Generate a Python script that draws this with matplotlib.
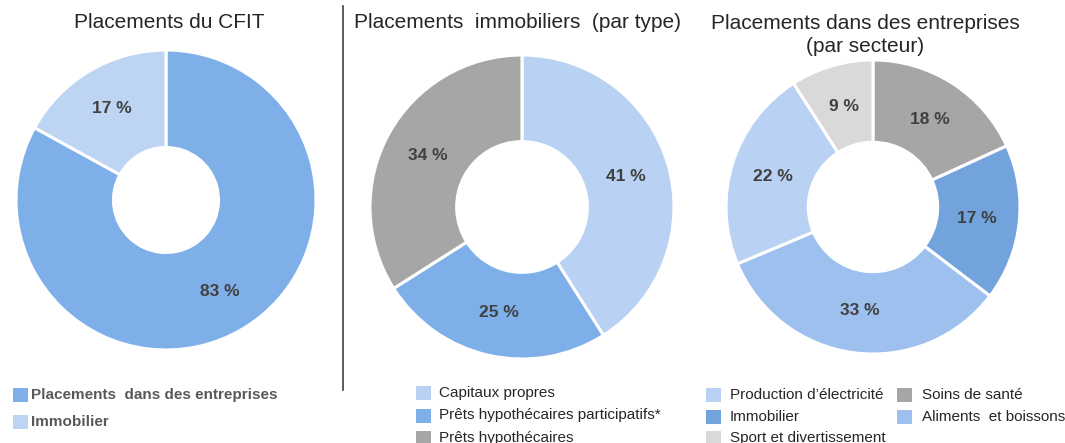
import matplotlib
matplotlib.use("Agg")
import matplotlib.pyplot as plt
from matplotlib.patches import Rectangle
from matplotlib.lines import Line2D

plt.rcParams['font.family'] = ['Liberation Sans', 'DejaVu Sans']

W, H = 1065, 443

# ---- data ----
cfit_labels = ["Placements  dans des entreprises", "Immobilier"]
cfit_values = [83, 17]
cfit_colors = ["#7EAFE9", "#BDD5F3"]

immo_labels = ["Capitaux propres", "Prêts hypothécaires participatifs*", "Prêts hypothécaires"]
immo_values = [41, 25, 34]
immo_colors = ["#B9D1F2", "#7EAFE9", "#A6A6A6"]

sect_labels = ["Soins de santé", "Immobilier", "Aliments  et boissons",
               "Production d\u2019électricité", "Sport et divertissement"]
sect_values = [18, 17, 33, 22, 9]
sect_colors = ["#A6A6A6", "#73A3DC", "#9DC0EE", "#B9D1F2", "#D9D9D9"]

titles = ["Placements du CFIT", "Placements  immobiliers  (par type)",
          "Placements dans des entreprises\n(par secteur)"]

fig = plt.figure(figsize=(W / 100, H / 100), dpi=100)


def fx(x):
    return x / W


def fy(y):
    return 1 - y / H


def donut(cx, cy, R, values, colors, hole, pctd):
    ax = fig.add_axes([fx(cx - R), fy(cy + R), 2 * R / W, 2 * R / H])
    vals = iter(values)
    wedges, texts, autotexts = ax.pie(
        values, colors=colors, startangle=90, counterclock=False,
        radius=1, wedgeprops=dict(width=1 - hole, edgecolor='white', linewidth=2.2),
        autopct=lambda p: f"{next(vals)} %", pctdistance=pctd,
        textprops=dict(fontsize=12.5, fontweight='bold', color='#404040'))
    ax.set_xlim(-1, 1)
    ax.set_ylim(-1, 1)
    ax.set_aspect('equal')
    return ax


donut(166, 200, 150, cfit_values, cfit_colors, 0.35, 0.71)
donut(522, 207, 152, immo_values, immo_colors, 0.43, 0.71)
donut(873, 207, 147, sect_values, sect_colors, 0.44, 0.71)

# titles
fig.text(fx(169), fy(22), titles[0], ha='center', va='center', fontsize=15, color='#262626')
fig.text(fx(517), fy(22), titles[1], ha='center', va='center', fontsize=15, color='#262626')
fig.text(fx(865), fy(35), titles[2], ha='center', va='center', fontsize=15, color='#262626',
         linespacing=1.25)

# separator line
fig.add_artist(Line2D([fx(343), fx(343)], [fy(6), fy(390)], color='#404040', lw=1.2))


def legend_item(x, y, color, label, bold=False, tx=None, color_txt='#404040'):
    fig.add_artist(Rectangle((fx(x), fy(y + 7)), 15 / W, 14 / H, transform=fig.transFigure,
                             facecolor=color, edgecolor='none'))
    fig.text(fx(tx if tx is not None else x + 18), fy(y), label, ha='left', va='center',
             fontsize=11, color=color_txt, fontweight='bold' if bold else 'normal')


# legend 1
for i, (lab, col) in enumerate(zip(cfit_labels, cfit_colors)):
    legend_item(13, 395 + 27 * i, col, lab, bold=True, tx=31, color_txt='#595959')

# legend 2
for i, (lab, col) in enumerate(zip(immo_labels, immo_colors)):
    legend_item(416, 393 + 22.5 * i, col, lab, tx=439, color_txt='#262626')

# legend 3 (two columns)
order3 = [3, 1, 4, 0, 2]
pos3 = [(706, 395, 730), (706, 417, 730), (706, 438, 730), (897, 395, 922), (897, 417, 922)]
for idx, (x, y, tx) in zip(order3, pos3):
    legend_item(x, y, sect_colors[idx], sect_labels[idx], tx=tx, color_txt='#262626')

fig.savefig("out.png", dpi=100)
